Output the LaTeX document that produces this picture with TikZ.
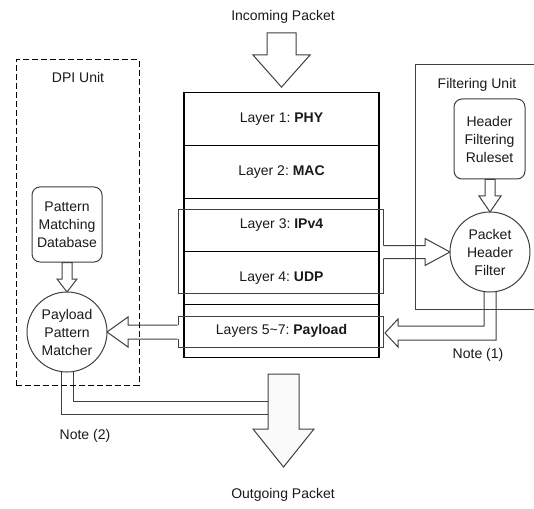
\documentclass[tikz,border=0pt]{standalone}
\usepackage{fontspec}
\setmainfont{Liberation Sans}
\usetikzlibrary{calc}
\definecolor{lineg}{HTML}{404040}
\definecolor{txtc}{HTML}{1A1A1A}
\definecolor{outfill}{HTML}{FAFAFA}
\begin{document}
\begin{tikzpicture}[x=0.75pt,y=-0.75pt,
  txt/.style={font=\fontsize{10.5pt}{13.5pt}\selectfont, text=txtc, align=center, inner sep=0pt},
  layerbox/.style={txt, draw=black, line width=1.3pt, minimum width=146.25pt, minimum height=39.75pt},
  framebox/.style={draw=lineg, line width=0.75pt, minimum width=153.75pt, inner sep=0pt},
  rbox/.style={txt, draw=lineg, line width=0.75pt, rounded corners=6pt, fill=white},
  unitcircle/.style={txt, circle, draw=lineg, line width=0.75pt, fill=white, minimum size=60pt},
  barrow/.style={draw=lineg, line width=0.75pt, line join=miter},
  bfill/.style={fill=white},
  dpibox/.style={draw=black, line width=0.75pt, dash pattern=on 4.5pt off 2.25pt, inner sep=0pt}
]
\useasboundingbox (0,0) rectangle (534,509);

% protocol stack
\node[layerbox] (l1) at (281.5,119)   {Layer 1:~\textbf{PHY}};
\node[layerbox] (l2) at (281.5,172)   {Layer 2:~\textbf{MAC}};
\node[layerbox] (l3) at (281.5,225)   {Layer 3:~\textbf{IPv4}};
\node[layerbox] (l4) at (281.5,278)   {Layer 4:~\textbf{UDP}};
\node[layerbox] (l5) at (281.5,331)   {Layers 5\textasciitilde 7:~\textbf{Payload}};

% frames
\node[framebox, minimum height=62.25pt] (f34) at (280.5,251.5) {};
\node[framebox, minimum height=23.25pt] (f57) at (280.5,331.5) {};

% incoming / outgoing
\node[txt] (inc) at (283,17) {Incoming Packet};
\node[txt] (outg) at (283,495) {Outgoing Packet};
\coordinate (intip) at ($(l1.north)+(0,-4.5)$);
\draw[barrow, fill=white] (267,33) -- (296,33) -- (296,55) -- (310,55) -- (intip) -- (253,55) -- (267,55) -- cycle;

% right side boxes
\node[rbox, minimum width=53.25pt, minimum height=60pt] (rules) at (489.5,139) {Header\\Filtering\\Ruleset};
\node[rbox, minimum width=52.5pt, minimum height=56.25pt] (pdb) at (67,224.5) {Pattern\\Matching\\Database};

% arrow: frame -> filter
\fill[bfill] (382.3,245.5) -- (425,245.5) -- (425,238.5) -- (450,252) -- (425,265.5) -- (425,258.5) -- (382.3,258.5) -- cycle;
\draw[barrow] (f34.east |- 0,245.5) -- (425,245.5) -- (425,238.5) -- (450,252) -- (425,265.5) -- (425,258.5) -- (f34.east |- 0,258.5);

% arrow: filter -> payload
\fill[bfill] (484,280) -- (484,326) -- (398,326) -- (398,319) -- (385,333) -- (398,347) -- (398,340) -- (496,340) -- (496,280) -- cycle;
\draw[barrow] (484,280) -- (484,326) -- (398,326) -- (398,319) -- (385,333) -- (398,347) -- (398,340) -- (496,340) -- (496,280);

% arrow: payload -> matcher
\fill[bfill] (178.8,325) -- (128,325) -- (128,317) -- (107,332) -- (128,347) -- (128,339) -- (178.8,339) -- cycle;
\draw[barrow] (f57.west |- 0,325) -- (128,325) -- (128,317) -- (107,332) -- (128,347) -- (128,339) -- (f57.west |- 0,339);

% arrow: matcher -> outgoing
\fill[bfill] (61,360) -- (61,414) -- (268,414) -- (268,401) -- (73,401) -- (73,360) -- cycle;
\draw[barrow] (61,360) -- (61,414) -- (268,414);
\draw[barrow] (73,360) -- (73,401) -- (268,401);

% outgoing arrow
\draw[barrow, fill=outfill] (268,374) -- (299,374) -- (299,429) -- (314,429) -- (283.5,467) -- (253,429) -- (268,429) -- cycle;

% arrows box -> circle
\draw[barrow, fill=white] (rules.south -| 485,0) -- (485,196) -- (479,196) -- (490,212) -- (501,196) -- (495,196) -- (rules.south -| 495,0) -- cycle;
\draw[barrow, fill=white] (pdb.south -| 62,0) -- (62,279) -- (57,279) -- (67,292) -- (77,279) -- (72,279) -- (pdb.south -| 72,0) -- cycle;

% circles
\node[unitcircle] (pf) at (490,252) {Packet\\Header\\Filter};
\node[unitcircle] (pm) at (67,332) {Payload\\Pattern\\Matcher};

% unit boxes
\node[dpibox, minimum width=92.25pt, minimum height=243.75pt] (dpi) at (77.5,222.5) {};
\node[txt] (dpilbl) at (78,77) {DPI Unit};
\draw[draw=lineg, line width=0.75pt] (534,65) -- (415,65) coordinate (fu) -- (415,309) -- (534,309);
\node[txt] (fulbl) at (477,85) {Filtering Unit};

% notes
\node[txt] (n1) at (478,355) {Note (1)};
\node[txt] (n2) at (85,436) {Note (2)};
\end{tikzpicture}
\end{document}
